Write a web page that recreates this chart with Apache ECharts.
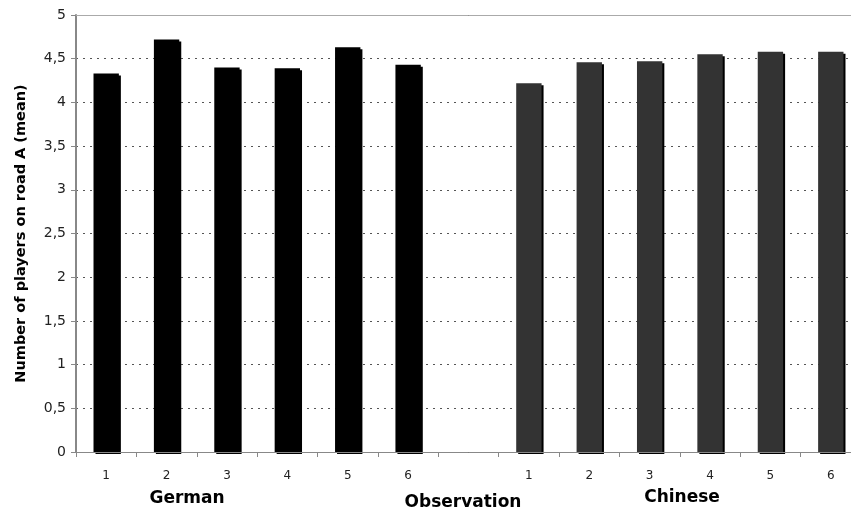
<!DOCTYPE html>
<html>
<head>
<meta charset="utf-8">
<script src="https://cdn.jsdelivr.net/npm/echarts@6/dist/echarts.min.js"></script>
<style>html,body{margin:0;padding:0;background:#fff;overflow:hidden;width:851px;height:514px;}#c{width:861px;height:514px;}</style>
</head>
<body>
<div id="c"></div>
<script>
var categories = ['1','2','3','4','5','6','','1','2','3','4','5','6'];
var germanValues = [4.33, 4.72, 4.40, 4.39, 4.63, 4.43];
var chineseValues = [4.22, 4.46, 4.47, 4.55, 4.58, 4.58];
var yTicks = [0, 0.5, 1, 1.5, 2, 2.5, 3, 3.5, 4, 4.5, 5];
var yAxisTitle = 'Number of players on road A (mean)';
var groupLabels = ['German', 'Observation', 'Chinese'];

var gap = 1;
var germanData = germanValues.concat(new Array(gap + chineseValues.length).fill(null));
var chineseData = new Array(germanValues.length + gap).fill(null).concat(chineseValues);

var chart = echarts.init(document.getElementById('c'), null, {renderer: 'canvas'});
var font = 'DejaVu Sans, Verdana, sans-serif';
chart.setOption({
  animation: false,
  backgroundColor: '#fff',
  grid: {left: 76, top: 15, bottom: 62, right: 0, containLabel: false},
  xAxis: [{
    type: 'category',
    data: categories,
    axisLine: {lineStyle: {color: '#888', width: 1}},
    axisTick: {show: true, length: 5, lineStyle: {color: '#888'}},
    axisLabel: {color: '#222', fontFamily: font, fontSize: 12, margin: 18},
    z: 10
  }, {
    type: 'category',
    position: 'top',
    data: categories,
    axisLine: {show: true, lineStyle: {color: '#aaa', width: 1}},
    axisTick: {show: false},
    axisLabel: {show: false}
  }],
  yAxis: {
    type: 'value',
    min: yTicks[0],
    max: yTicks[yTicks.length - 1],
    interval: yTicks[1] - yTicks[0],
    name: yAxisTitle,
    nameLocation: 'middle',
    nameGap: 47,
    nameRotate: 90,
    nameTextStyle: {fontFamily: font, fontWeight: 'bold', fontSize: 14.5, color: '#000'},
    axisLine: {show: true, lineStyle: {color: '#888', width: 2}},
    axisTick: {show: true, length: 5, lineStyle: {color: '#888'}},
    axisLabel: {
      color: '#222', fontFamily: font, fontSize: 14, margin: 10,
      formatter: function (v) { return String(v).replace('.', ','); }
    },
    splitLine: {show: true, lineStyle: {color: '#555', type: [2, 5], width: 1}}
  },
  series: [{
    type: 'bar',
    data: germanData,
    barWidth: '42%',
    barGap: '-100%',
    itemStyle: {color: '#000', shadowColor: '#000', shadowBlur: 0, shadowOffsetX: 2, shadowOffsetY: 2}
  }, {
    type: 'bar',
    data: chineseData,
    barWidth: '42%',
    barGap: '-100%',
    itemStyle: {color: '#333', shadowColor: '#000', shadowBlur: 0, shadowOffsetX: 2, shadowOffsetY: 2}
  }],
  graphic: [
    {type: 'text', x: 187, y: 499, style: {text: groupLabels[0], font: 'bold 17px ' + font, fill: '#000', textAlign: 'center', textVerticalAlign: 'middle'}},
    {type: 'text', x: 463, y: 503, style: {text: groupLabels[1], font: 'bold 17px ' + font, fill: '#000', textAlign: 'center', textVerticalAlign: 'middle'}},
    {type: 'text', x: 682, y: 498, style: {text: groupLabels[2], font: 'bold 17px ' + font, fill: '#000', textAlign: 'center', textVerticalAlign: 'middle'}}
  ]
});
</script>
</body>
</html>
